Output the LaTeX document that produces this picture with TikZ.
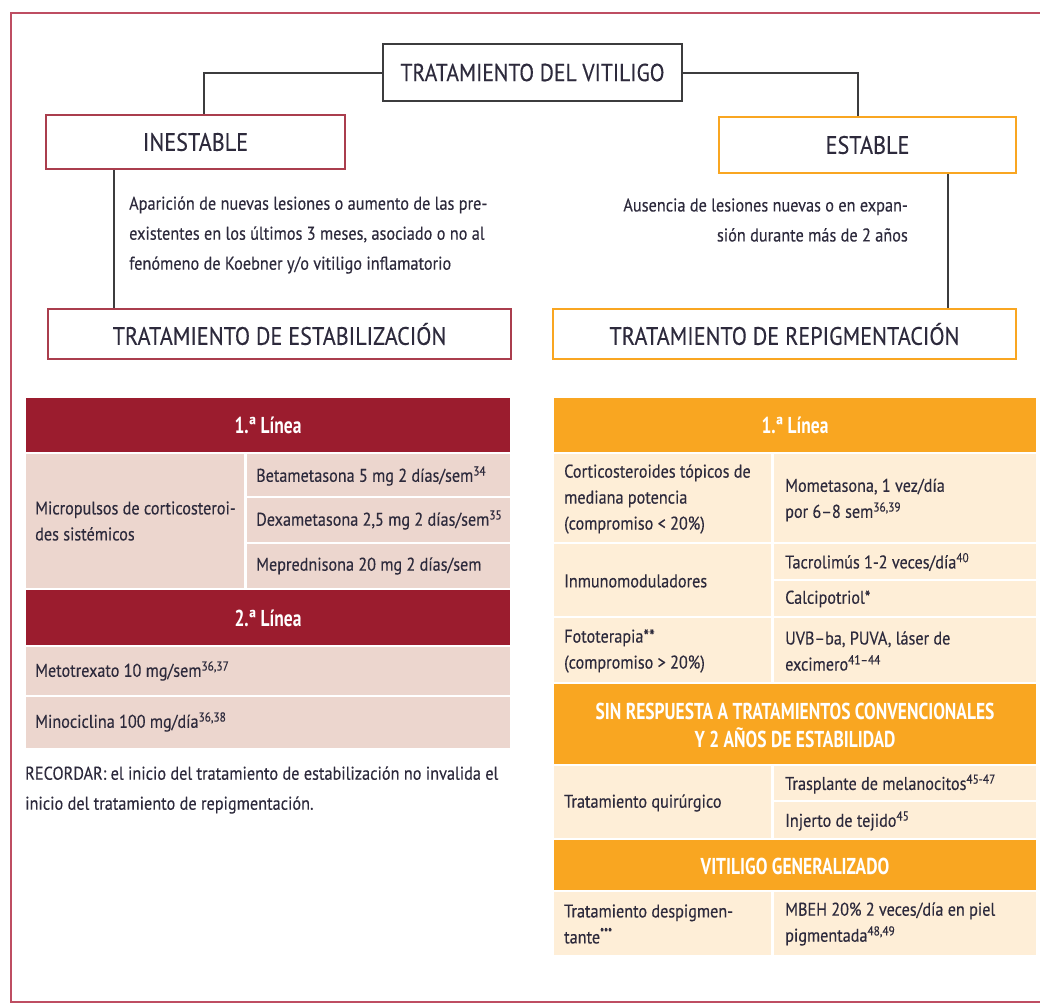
\documentclass[tikz,border=0pt]{standalone}
\usepackage{fontspec}
\setmainfont{PT Sans}[FakeStretch=0.88, FakeBold=0.3]
\newfontfamily\headfont{PT Sans}[FakeStretch=0.76]
\usetikzlibrary{positioning}
\definecolor{ink}{RGB}{45,42,60}
\definecolor{frame}{RGB}{190,78,98}
\definecolor{wine}{RGB}{155,28,46}
\definecolor{winesoft}{RGB}{236,214,206}
\definecolor{amber}{RGB}{249,166,33}
\definecolor{ambersoft}{RGB}{254,238,215}
\definecolor{wire}{RGB}{60,60,62}
\tikzset{
  topbox/.style={draw=wire, line width=2.4pt, minimum width=299pt, minimum height=57pt,
                 text=ink, font=\fontsize{24.5}{28}\selectfont},
  redbox/.style={draw=wine!85, line width=2pt, text=ink, font=\fontsize{25.2}{28}\selectfont},
  ambbox/.style={draw=amber, line width=2pt, text=ink, font=\fontsize{25.2}{28}\selectfont},
  conn/.style={draw=wire, line width=2pt},
  note/.style={text=ink, align=left, inner sep=0pt, font=\fontsize{18.5}{30}\selectfont},
  cell/.style={text=ink, align=left, anchor=west, inner sep=0pt, font=\fontsize{18.4}{26}\selectfont},
  headtxt/.style={text=white, align=center, inner sep=0pt,
                  font=\headfont\bfseries\fontsize{23}{28}\selectfont},
}
\begin{document}
\begin{tikzpicture}[x=1pt, y=-1pt]
  \useasboundingbox (0,0) rectangle (1040,1004);
  % ===================== frame =====================
  \draw[frame, line width=2.5pt] (1041,13) -- (11,13) -- (11,1002) -- (1041,1002);
  % ===================== tree =====================
  \node[topbox] (title) at (532.5,72.5) {TRATAMIENTO DEL VITILIGO};
  \node[redbox, minimum width=299pt, minimum height=54pt] (inest) at (195.5,142) {INESTABLE};
  \node[ambbox, minimum width=297pt, minimum height=56pt] (estab) at (867.5,145) {ESTABLE};
  \node[redbox, minimum width=463pt, minimum height=50pt] (stabil) at (279.5,334) {TRATAMIENTO DE ESTABILIZACIÓN};
  \node[ambbox, minimum width=463pt, minimum height=50pt] (repig) at (784.5,334) {TRATAMIENTO DE REPIGMENTACIÓN};
  \draw[conn] (title.west) -| ([xshift=8pt]inest.north);
  \draw[conn] (title.east) -| ([xshift=-10pt]estab.north);
  \draw[conn] ([xshift=-82pt]inest.south) -- ([xshift=-82pt]inest.south |- stabil.north);
  \draw[conn] ([xshift=80pt]estab.south) -- ([xshift=80pt]estab.south |- repig.north);
  \node[note, anchor=west] (inestnote) at (129,235)
    {Aparición de nuevas lesiones o aumento de las pre-\\
     existentes en los últimos 3 meses, asociado o no al\\
     fenómeno de Koebner y/o vitiligo inflamatorio};
  \node[note, anchor=east, align=right] (estabnote) at (908,220)
    {Ausencia de lesiones nuevas o en expan-\\
     sión durante más de 2 años};
  % ===================== left table =====================
  \fill[wine]     (26,398)  rectangle (510,452);
  \fill[winesoft] (26,454)  rectangle (244,588);
  \fill[winesoft] (247,454) rectangle (510,496);
  \fill[winesoft] (247,498) rectangle (510,542);
  \fill[winesoft] (247,544) rectangle (510,588);
  \fill[wine]     (26,590)  rectangle (510,645);
  \fill[winesoft] (26,647)  rectangle (510,695);
  \fill[winesoft] (26,697)  rectangle (510,748);
  \node[headtxt] (lline1) at (268,425) {1.ª Línea};
  \node[cell] (micro) at (35,521) {Micropulsos de corticosteroi-\\des sistémicos};
  \node[cell] (beta)  at (256,476) {Betametasona 5 mg 2 días/sem\textsuperscript{34}};
  \node[cell] (dexa)  at (256,520) {Dexametasona 2,5 mg 2 días/sem\textsuperscript{35}};
  \node[cell] (mepre) at (256,566) {Meprednisona 20 mg 2 días/sem};
  \node[headtxt] (lline2) at (268,618) {2.ª Línea};
  \node[cell] (meto) at (35,671) {Metotrexato 10 mg/sem\textsuperscript{36,37}};
  \node[cell] (mino) at (35,722) {Minociclina 100 mg/día\textsuperscript{36,38}};
  \node[note, anchor=west] (remind) at (25,790)
    {RECORDAR: el inicio del tratamiento de estabilización no invalida el\\
     inicio del tratamiento de repigmentación.};
  % ===================== right table =====================
  \fill[amber]     (554,398) rectangle (1036,452);
  \fill[ambersoft] (554,454) rectangle (771,542);
  \fill[ambersoft] (774,454) rectangle (1036,542);
  \fill[ambersoft] (554,544) rectangle (771,616);
  \fill[ambersoft] (774,544) rectangle (1036,579);
  \fill[ambersoft] (774,581) rectangle (1036,616);
  \fill[ambersoft] (554,618) rectangle (771,682);
  \fill[ambersoft] (774,618) rectangle (1036,682);
  \fill[amber]     (554,684) rectangle (1036,764);
  \fill[ambersoft] (554,766) rectangle (771,838);
  \fill[ambersoft] (774,766) rectangle (1036,800);
  \fill[ambersoft] (774,802) rectangle (1036,838);
  \fill[amber]     (554,840) rectangle (1036,890);
  \fill[ambersoft] (554,892) rectangle (771,955);
  \fill[ambersoft] (774,892) rectangle (1036,955);
  \node[headtxt] (rline1) at (795,425) {1.ª Línea};
  \node[cell] (cortico) at (564,499) {Corticosteroides tópicos de\\mediana potencia\\(compromiso < 20\%)};
  \node[cell] (mometa)  at (785,500) {Mometasona, 1 vez/día\\por 6--8 sem\textsuperscript{36,39}};
  \node[cell] (inmuno)  at (564,581) {Inmunomoduladores};
  \node[cell] (tacro)   at (785,562) {Tacrolimús 1-2 veces/día\textsuperscript{40}};
  \node[cell] (calci)   at (785,599) {Calcipotriol*};
  \node[cell] (foto)    at (564,651) {Fototerapia**\\(compromiso > 20\%)};
  \node[cell] (uvb)     at (785,651) {UVB--ba, PUVA, láser de\\excimero\textsuperscript{41--44}};
  \node[headtxt] (noresp) at (795,725) {SIN RESPUESTA A TRATAMIENTOS CONVENCIONALES\\Y 2 AÑOS DE ESTABILIDAD};
  \node[cell] (quiru)   at (564,803) {Tratamiento quirúrgico};
  \node[cell] (traspl)  at (785,784) {Trasplante de melanocitos\textsuperscript{45-47}};
  \node[cell] (injer)   at (785,821) {Injerto de tejido\textsuperscript{45}};
  \node[headtxt] (general) at (795,866) {VITILIGO GENERALIZADO};
  \node[cell] (despig)  at (564,924) {Tratamiento despigmen-\\tante\textsuperscript{***}};
  \node[cell] (mbeh)    at (785,924) {MBEH 20\% 2 veces/día en piel\\pigmentada\textsuperscript{48,49}};
\end{tikzpicture}
\end{document}
